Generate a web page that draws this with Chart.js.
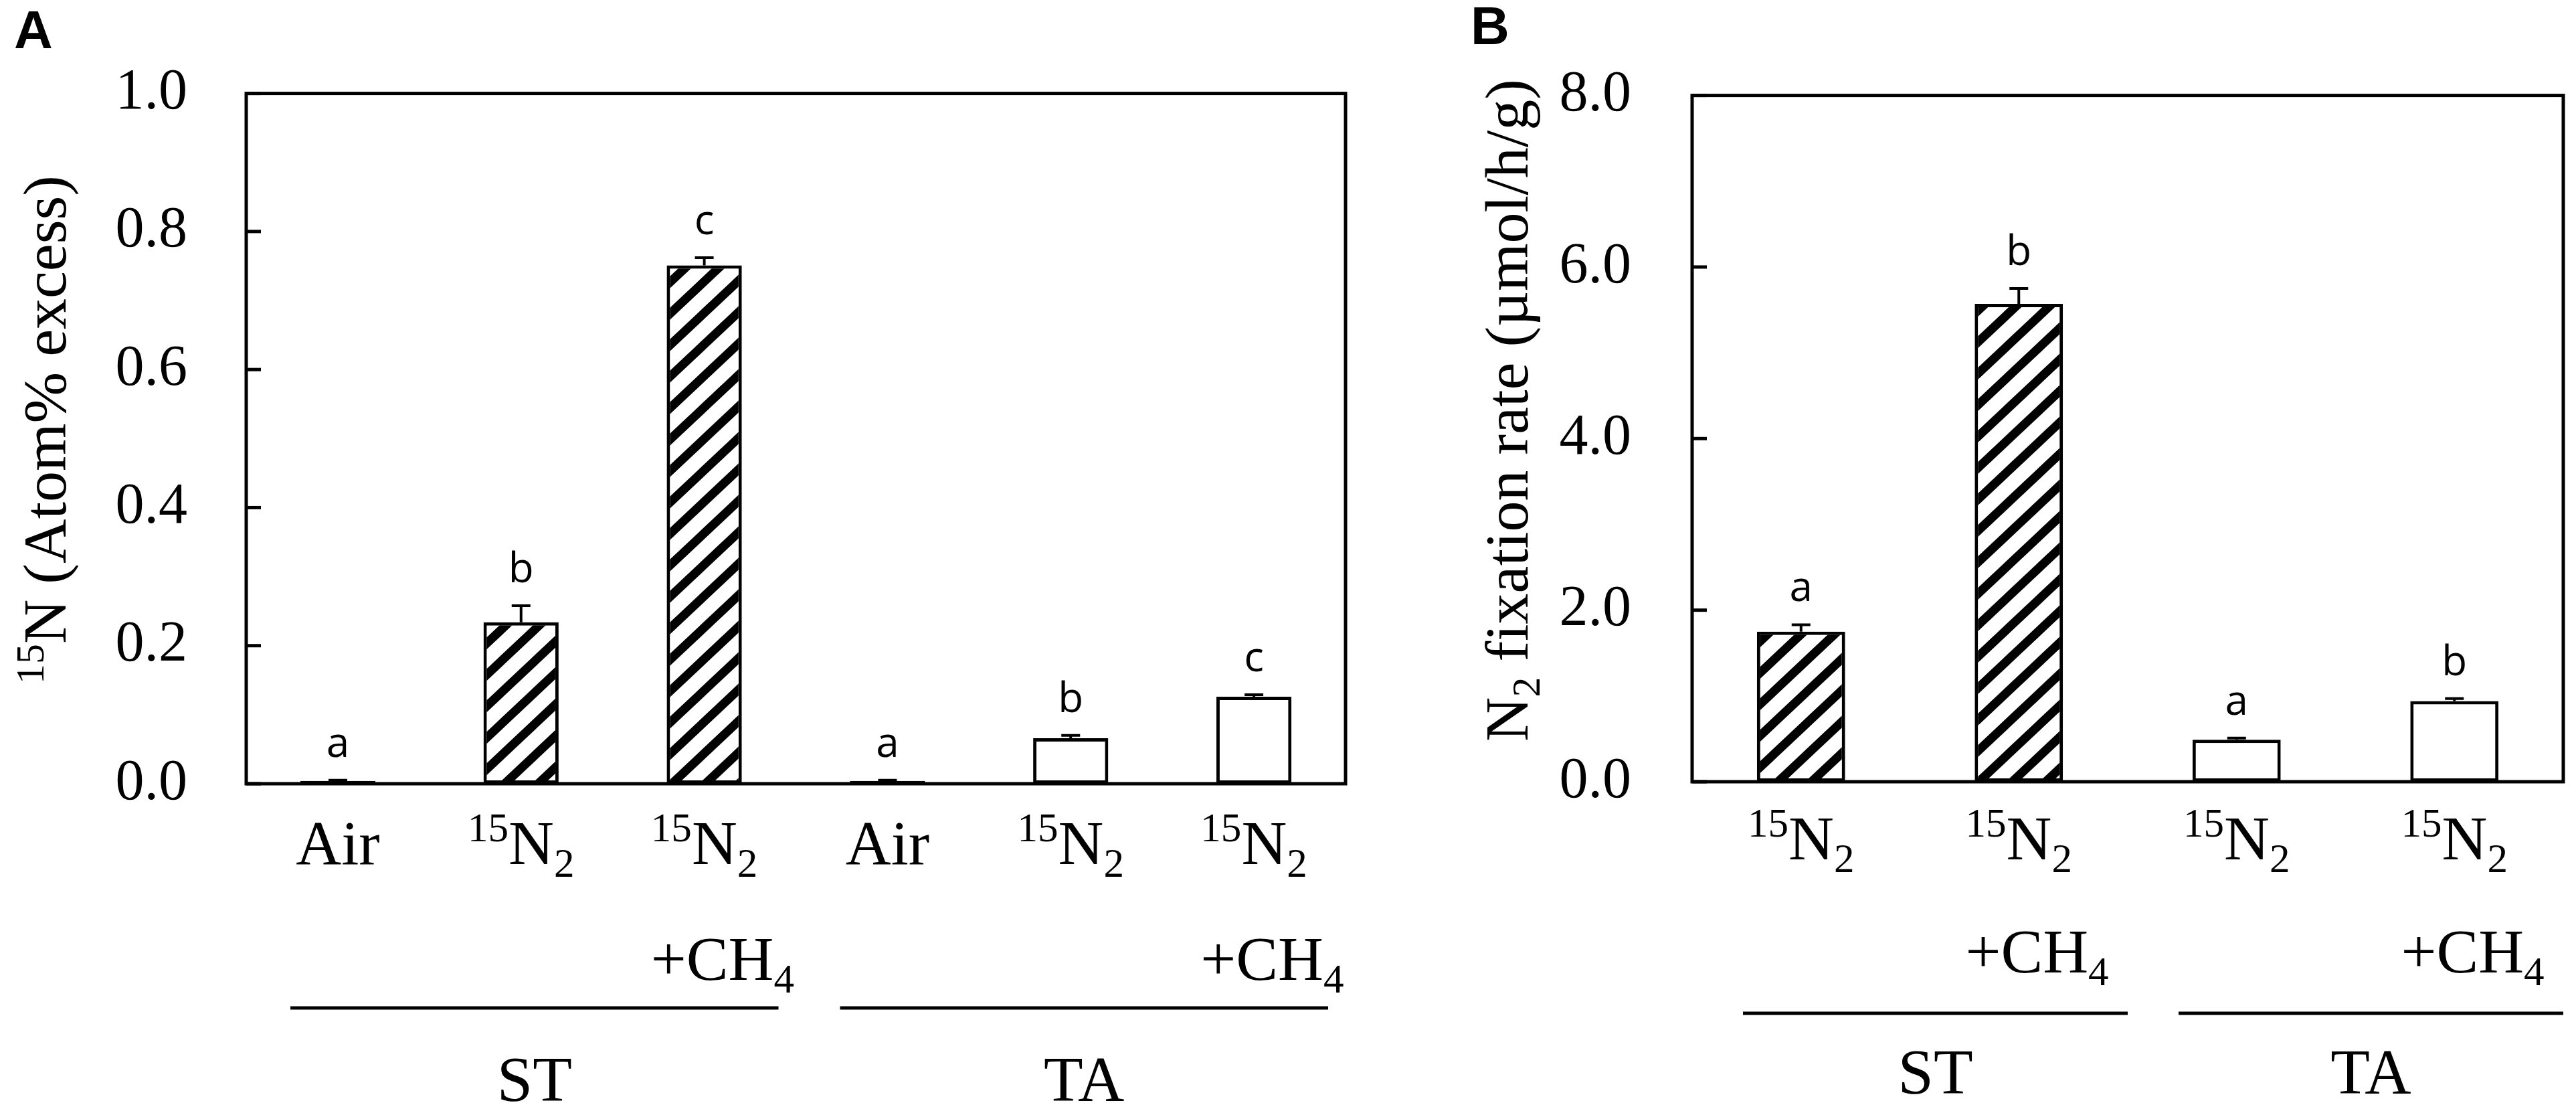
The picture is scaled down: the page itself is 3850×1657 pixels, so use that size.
<!DOCTYPE html>
<html>
<head>
<meta charset="utf-8">
<script src="https://cdn.jsdelivr.net/npm/chart.js@4.4.0/dist/chart.umd.min.js"></script>
<style>
  html, body { margin: 0; padding: 0; background: #fff; }
  body { width: 3850px; height: 1657px; position: relative; overflow: hidden; }
  canvas { position: absolute; top: 0; }
  #chartA { left: 0; }
  #chartB { left: 2150px; }
</style>
</head>
<body>
<canvas id="chartA" width="2150" height="1657"></canvas>
<canvas id="chartB" width="1700" height="1657"></canvas>
<script>
// ---- data: panel A (15N atom% excess) ----
const labelsA = ["Air", "^{15}N_{2}", "^{15}N_{2}|+CH_{4}", "Air", "^{15}N_{2}", "^{15}N_{2}|+CH_{4}"];
const meansA = [0.004, 0.234, 0.751, 0.004, 0.066, 0.126];
const errorsA = [0.001, 0.024, 0.011, 0.001, 0.004, 0.003];
const lettersA = ["a", "b", "c", "a", "b", "c"];
const hatchA = [true, true, true, false, false, false];
const groupNamesA = ["ST", "TA"];
const groupSpansA = [[0, 2], [3, 5]];
const yTicksA = { min: 0, max: 1.0, step: 0.2 };

// ---- data: panel B (N2 fixation rate) ----
const labelsB = ["^{15}N_{2}", "^{15}N_{2}|+CH_{4}", "^{15}N_{2}", "^{15}N_{2}|+CH_{4}"];
const meansB = [1.75, 5.57, 0.49, 0.94];
const errorsB = [0.08, 0.18, 0.02, 0.03];
const lettersB = ["a", "b", "a", "b"];
const hatchB = [true, true, false, false];
const groupNamesB = ["ST", "TA"];
const groupSpansB = [[0, 1], [2, 3]];
const yTicksB = { min: 0, max: 8.0, step: 2.0 };

const SERIF = "'Liberation Serif', 'Times New Roman', serif";
const SANS = "'Open Sans', 'DejaVu Sans', sans-serif";

function makeHatch() {
    const w = 50, h = 47;
    const tile = document.createElement("canvas");
    tile.width = w;
    tile.height = h;
    const c = tile.getContext("2d");
    c.fillStyle = "#fff";
    c.fillRect(0, 0, w, h);
    c.strokeStyle = "#000";
    c.lineWidth = 13;
    for (let k = -1; k <= 1; k++) {
        c.beginPath();
        c.moveTo(-w, 2 * h + k * h);
        c.lineTo(2 * w, -h + k * h);
        c.stroke();
    }
    return c.createPattern(tile, "repeat");
}

// split "^{15}N_{2}" into segments
function parseRich(text) {
    const segs = [];
    const re = /\^\{([^}]*)\}|_\{([^}]*)\}|([^^_]+)/g;
    let m;
    while ((m = re.exec(text)) !== null) {
        if (m[1] !== undefined) segs.push({ t: m[1], mode: "sup" });
        else if (m[2] !== undefined) segs.push({ t: m[2], mode: "sub" });
        else segs.push({ t: m[3], mode: "n" });
    }
    return segs;
}

function segSize(seg, size) {
    return seg.mode === "n" ? size : size * 0.65;
}

function richWidth(ctx, text, size, family) {
    let w = 0;
    parseRich(text).forEach(seg => {
        ctx.font = segSize(seg, size) + "px " + family;
        w += ctx.measureText(seg.t).width;
    });
    return w;
}

function drawRich(ctx, text, x, y, size, family) {
    ctx.textAlign = "left";
    ctx.textBaseline = "alphabetic";
    let cx = x;
    parseRich(text).forEach(seg => {
        const s = segSize(seg, size);
        ctx.font = s + "px " + family;
        let dy = 0;
        if (seg.mode === "sup") dy = -size * 0.36;
        if (seg.mode === "sub") dy = size * 0.2;
        ctx.fillText(seg.t, cx, y + dy);
        cx += ctx.measureText(seg.t).width;
    });
}

const panelPlugin = {
    id: "panelDecor",
    afterDatasetsDraw(chart, args, opts) {
        const ctx = chart.ctx;
        const area = chart.chartArea;
        const xs = chart.scales.x;
        const ys = chart.scales.y;
        ctx.save();
        ctx.fillStyle = "#000";
        ctx.strokeStyle = "#000";

        // frame box
        ctx.lineWidth = 5;
        ctx.strokeRect(area.left, area.top, area.right - area.left, area.bottom - area.top);

        // inward ticks on the left axis
        ys.ticks.forEach(t => {
            const py = ys.getPixelForValue(t.value);
            ctx.beginPath();
            ctx.moveTo(area.left, py);
            ctx.lineTo(area.left + 22, py);
            ctx.stroke();
        });

        // error bars and letters
        const meta = chart.getDatasetMeta(0);
        ctx.lineWidth = 4;
        meta.data.forEach((bar, i) => {
            const top = ys.getPixelForValue(opts.means[i] + opts.errors[i]);
            ctx.beginPath();
            ctx.moveTo(bar.x, bar.y);
            ctx.lineTo(bar.x, top);
            ctx.moveTo(bar.x - 14, top);
            ctx.lineTo(bar.x + 14, top);
            ctx.stroke();
            ctx.font = "500 62px " + SANS;
            ctx.textAlign = "center";
            ctx.textBaseline = "alphabetic";
            ctx.fillText(opts.letters[i], bar.x, top - 35);
        });

        // category labels (first line centred, next lines share its left edge)
        opts.labels.forEach((lab, i) => {
            const px = xs.getPixelForValue(i);
            const lines = lab.split("|");
            const w0 = richWidth(ctx, lines[0], 94, SERIF);
            const left = px - w0 / 2;
            lines.forEach((ln, k) => {
                drawRich(ctx, ln, left, opts.lineY[k], 94, SERIF);
            });
        });

        // group lines and names
        const half = (xs.getPixelForValue(1) - xs.getPixelForValue(0)) / 2;
        ctx.lineWidth = 5;
        opts.groupSpans.forEach((span, g) => {
            const x0 = xs.getPixelForValue(span[0]) - half + opts.groupInset[0];
            const x1 = xs.getPixelForValue(span[1]) + half - opts.groupInset[1];
            ctx.beginPath();
            ctx.moveTo(x0, opts.groupLineY);
            ctx.lineTo(x1, opts.groupLineY);
            ctx.stroke();
            ctx.font = "96px " + SERIF;
            ctx.textAlign = "center";
            ctx.textBaseline = "alphabetic";
            ctx.fillText(opts.groupNames[g], (x0 + x1) / 2, opts.groupLabelY);
        });

        // y axis title
        ctx.save();
        ctx.translate(opts.titlePos[0], opts.titlePos[1]);
        ctx.rotate(-Math.PI / 2);
        const tw = richWidth(ctx, opts.title, 92, SERIF);
        drawRich(ctx, opts.title, -tw / 2, 0, 92, SERIF);
        ctx.restore();

        // panel letter
        ctx.font = "bold 80px 'Liberation Sans', Arial, sans-serif";
        ctx.textAlign = "left";
        ctx.textBaseline = "alphabetic";
        ctx.fillText(opts.panel, opts.panelPos[0], opts.panelPos[1]);

        ctx.restore();
    }
};

const hatch = makeHatch();

function buildChart(canvas, cfg) {
    const H = canvas.height;
    return new Chart(canvas, {
        type: "bar",
        data: {
            labels: cfg.labels,
            datasets: [{
                data: cfg.means,
                backgroundColor: cfg.hatch.map(h => h ? hatch : "#fff"),
                borderColor: "#000",
                borderWidth: 5,
                borderSkipped: false,
                barPercentage: cfg.barPct,
                categoryPercentage: 1.0
            }]
        },
        options: {
            responsive: false,
            animation: false,
            devicePixelRatio: 1,
            layout: {
                padding: { left: 0, top: cfg.area.top, right: canvas.width - cfg.area.right, bottom: 0 }
            },
            plugins: {
                legend: { display: false },
                tooltip: { enabled: false },
                panelDecor: cfg.decor
            },
            scales: {
                x: {
                    grid: { display: false, drawTicks: false },
                    border: { display: false },
                    ticks: { display: false },
                    afterFit: s => { s.height = H - cfg.area.bottom; }
                },
                y: {
                    min: cfg.yTicks.min,
                    max: cfg.yTicks.max,
                    grid: { display: false, drawTicks: false },
                    border: { display: false },
                    ticks: {
                        stepSize: cfg.yTicks.step,
                        color: "#000",
                        padding: cfg.tickPad,
                        font: { family: SERIF, size: 86 },
                        callback: v => Number(v).toFixed(1)
                    },
                    afterFit: s => { s.width = cfg.area.left; }
                }
            }
        },
        plugins: [panelPlugin]
    });
}

buildChart(document.getElementById("chartA"), {
    labels: labelsA,
    means: meansA,
    hatch: hatchA,
    yTicks: yTicksA,
    barPct: 0.41,
    tickPad: 88,
    area: { left: 368, right: 2011, top: 72, bottom: 1171 },
    decor: {
        means: meansA,
        errors: errorsA,
        letters: lettersA,
        labels: labelsA,
        lineY: [1291, 1464],
        groupNames: groupNamesA,
        groupSpans: groupSpansA,
        groupInset: [66, 26],
        groupLineY: 1506,
        groupLabelY: 1645,
        title: "^{15}N (Atom% excess)",
        titlePos: [98, 642],
        panel: "A",
        panelPos: [21, 72]
    }
});

buildChart(document.getElementById("chartB"), {
    labels: labelsB,
    means: meansB,
    hatch: hatchB,
    yTicks: yTicksB,
    barPct: 0.405,
    tickPad: 91,
    area: { left: 379, right: 1681, top: 45, bottom: 1168 },
    decor: {
        means: meansB,
        errors: errorsB,
        letters: lettersB,
        labels: labelsB,
        lineY: [1284, 1453],
        groupNames: groupNamesB,
        groupSpans: groupSpansB,
        groupInset: [76, 0],
        groupLineY: 1514,
        groupLabelY: 1634,
        title: "N_{2} fixation rate (µmol/h/g)",
        titlePos: [133, 613],
        panel: "B",
        panelPos: [48, 66]
    }
});
</script>
</body>
</html>
